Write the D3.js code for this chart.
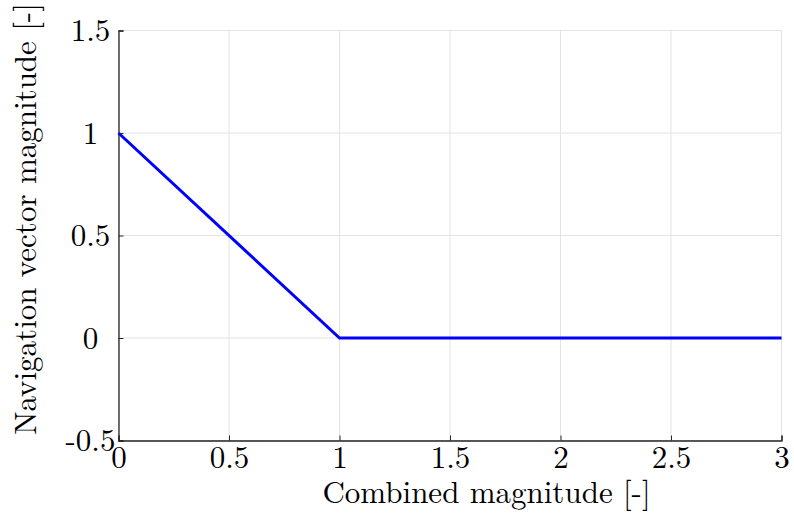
<!DOCTYPE html>
<html>
<head>
<meta charset="utf-8">
<script src="https://cdn.jsdelivr.net/npm/d3@7"></script>
<style>
  html, body { margin: 0; padding: 0; background: #fff; }
  svg text { font-family: "Latin Modern Roman", "CMU Serif", "Liberation Serif", "DejaVu Serif", serif; fill: #000; }
</style>
</head>
<body>
<svg id="chart" width="794" height="513"></svg>
<script>
// Piecewise-linear navigation magnitude as a function of combined magnitude
const combinedMagnitude = [0, 1, 3];
const navigationMagnitude = [1, 0, 0];
const xTicks = [0, 0.5, 1, 1.5, 2, 2.5, 3];
const yTicks = [-0.5, 0, 0.5, 1, 1.5];
const xTickLabels = ["0", "0.5", "1", "1.5", "2", "2.5", "3"];
const yTickLabels = ["-0.5", "0", "0.5", "1", "1.5"];

const svg = d3.select("#chart");
const W = 794, H = 513;
const margin = { left: 118.5, right: W - 781.5, top: 30.5, bottom: H - 440.5 };
const fontSize = 31;

const x = d3.scaleLinear().domain([0, 3]).range([margin.left, W - margin.right]);
const y = d3.scaleLinear().domain([-0.5, 1.5]).range([H - margin.bottom, margin.top]);

// grid
const grid = svg.append("g");
grid.selectAll(".gx").data(xTicks).enter().append("line")
  .attr("x1", d => x(d)).attr("x2", d => x(d))
  .attr("y1", y(-0.5)).attr("y2", y(1.5))
  .attr("stroke", "#e3e3e3").attr("stroke-width", 1);
grid.selectAll(".gy").data(yTicks).enter().append("line")
  .attr("x1", x(0)).attr("x2", x(3))
  .attr("y1", d => y(d)).attr("y2", d => y(d))
  .attr("stroke", "#e3e3e3").attr("stroke-width", 1);

// axes (ticks point inward)
const xAxis = d3.axisBottom(x).tickValues(xTicks).tickSize(-5).tickFormat((d, i) => xTickLabels[i]);
const yAxis = d3.axisLeft(y).tickValues(yTicks).tickSize(-5).tickFormat((d, i) => yTickLabels[i]);

const gx = svg.append("g").attr("transform", `translate(0,${y(-0.5)})`).call(xAxis);
const gy = svg.append("g").attr("transform", `translate(${x(0)},0)`).call(yAxis);
[gx, gy].forEach(g => {
  g.select(".domain").attr("stroke", "#262626").attr("stroke-width", 1.3);
  g.selectAll(".tick line").attr("stroke", "#262626").attr("stroke-width", 1);
  g.selectAll(".tick text").style("font-size", fontSize + "px").attr("fill", "#000");
});
// x tick labels: baseline ~27px below the axis
gx.selectAll(".tick text").attr("y", 27.5).attr("dy", null);
// y tick labels: centred in a column left of the axis
gy.selectAll(".tick text")
  .attr("text-anchor", "middle")
  .attr("x", 90.5 - x(0))
  .attr("dy", "0.33em");

// data line
const line = d3.line().x((d, i) => x(combinedMagnitude[i])).y(d => y(d));
svg.append("path")
  .datum(navigationMagnitude)
  .attr("d", line)
  .attr("fill", "none")
  .attr("stroke", "#0000ff")
  .attr("stroke-width", 3)
  .attr("stroke-linejoin", "miter");

// axis labels
svg.append("text")
  .attr("x", 486.5).attr("y", 503)
  .attr("text-anchor", "middle")
  .style("font-size", fontSize + "px")
  .text("Combined magnitude [-]");
svg.append("text")
  .attr("transform", "translate(36,219) rotate(-90)")
  .attr("text-anchor", "middle")
  .style("font-size", fontSize + "px")
  .text("Navigation vector magnitude [-]");
</script>
</body>
</html>
